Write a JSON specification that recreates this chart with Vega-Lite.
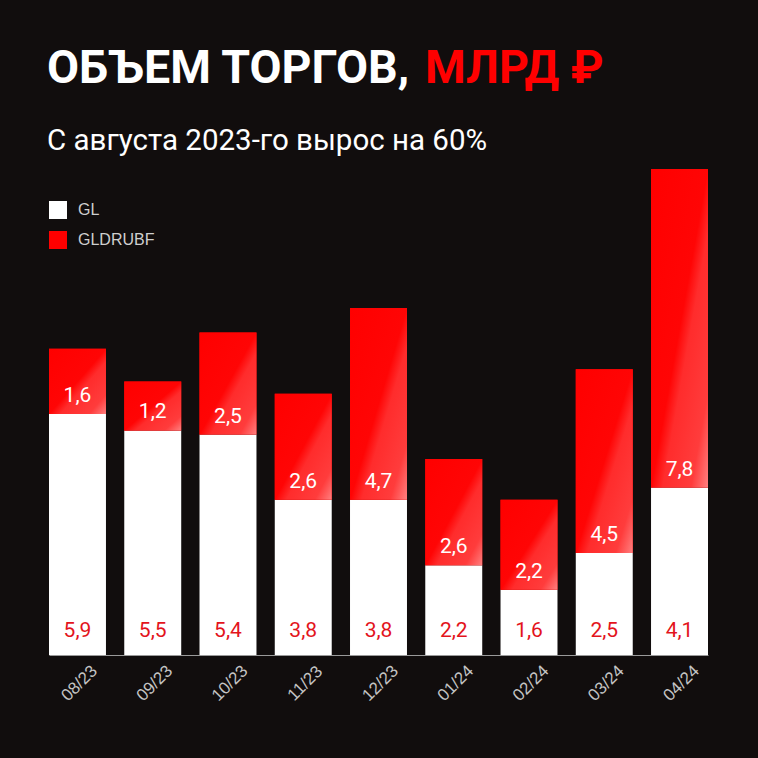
{
  "$schema": "https://vega.github.io/schema/vega-lite/v6.json",
  "autosize": {"type": "none"},
  "width": 659,
  "height": 490,
  "padding": {"left": 49, "top": 165, "right": 50, "bottom": 103},
  "background": "#110d0d",
  "config": {
    "view": {"stroke": null},
    "locale": {"number": {"decimal": ",", "thousands": " ", "grouping": [3], "currency": ["", " ₽"]}}
  },
  "datasets": {
    "volumes": [
      {"month": "08/23", "series": "GL", "value": 5.9},
      {"month": "08/23", "series": "GLDRUBF", "value": 1.6},
      {"month": "09/23", "series": "GL", "value": 5.5},
      {"month": "09/23", "series": "GLDRUBF", "value": 1.2},
      {"month": "10/23", "series": "GL", "value": 5.4},
      {"month": "10/23", "series": "GLDRUBF", "value": 2.5},
      {"month": "11/23", "series": "GL", "value": 3.8},
      {"month": "11/23", "series": "GLDRUBF", "value": 2.6},
      {"month": "12/23", "series": "GL", "value": 3.8},
      {"month": "12/23", "series": "GLDRUBF", "value": 4.7},
      {"month": "01/24", "series": "GL", "value": 2.2},
      {"month": "01/24", "series": "GLDRUBF", "value": 2.6},
      {"month": "02/24", "series": "GL", "value": 1.6},
      {"month": "02/24", "series": "GLDRUBF", "value": 2.2},
      {"month": "03/24", "series": "GL", "value": 2.5},
      {"month": "03/24", "series": "GLDRUBF", "value": 4.5},
      {"month": "04/24", "series": "GL", "value": 4.1},
      {"month": "04/24", "series": "GLDRUBF", "value": 7.8}
    ],
    "titles": [
      {"part": "main", "label": "ОБЪЕМ ТОРГОВ,"},
      {"part": "unit", "label": "МЛРД ₽"},
      {"part": "sub", "label": "С августа 2023-го вырос на 60%"}
    ]
  },
  "data": {"name": "volumes"},
  "layer": [
    {
      "transform": [
        {"stack": "value", "groupby": ["month"], "sort": [{"field": "series", "order": "ascending"}], "as": ["v0", "v1"]}
      ],
      "encoding": {
        "x": {
          "field": "month",
          "type": "ordinal",
          "sort": null,
          "scale": {"paddingInner": 0.243, "paddingOuter": 0},
          "axis": {
            "title": null,
            "ticks": false,
            "domain": true,
            "domainColor": "#9a9a9a",
            "domainWidth": 1,
            "labelAngle": -45,
            "labelAlign": "center",
            "labelBaseline": "middle",
            "labelPadding": 28,
            "labelFont": "Liberation Sans",
            "labelFontSize": 17,
            "labelColor": "#c4c4c4",
            "labelOffset": 2,
            "grid": false
          }
        }
      },
      "layer": [
        {
          "mark": {"type": "bar"},
          "encoding": {
            "y": {"field": "v1", "type": "quantitative", "scale": {"domain": [0, 12], "nice": false}, "axis": null},
            "y2": {"field": "v0"},
            "color": {
              "field": "series",
              "type": "nominal",
              "scale": {"domain": ["GL", "GLDRUBF"], "range": ["#ffffff", "#ff0000"]},
              "legend": {
                "title": null,
                "orient": "none",
                "legendX": 0,
                "legendY": 36,
                "padding": 0,
                "symbolType": "square",
                "symbolSize": 324,
                "symbolStrokeWidth": 0,
                "symbolOpacity": 1,
                "labelFont": "Liberation Sans",
                "labelFontSize": 16,
                "labelColor": "#cfcfcf",
                "labelOffset": 11,
                "rowPadding": 12
              }
            }
          }
        },
        {
          "transform": [{"filter": "datum.series == 'GLDRUBF'"}],
          "mark": {
            "type": "bar",
            "color": {
              "gradient": "linear",
              "x1": 0, "y1": 0, "x2": 1, "y2": 1,
              "stops": [
                {"offset": 0, "color": "#ff0000"},
                {"offset": 0.5, "color": "#ff0505"},
                {"offset": 0.6, "color": "#ff2c2c"},
                {"offset": 0.85, "color": "#ff3c3c"},
                {"offset": 1, "color": "#ff8080"}
              ]
            }
          },
          "encoding": {
            "y": {"field": "v1", "type": "quantitative"},
            "y2": {"field": "v0"}
          }
        },
        {
          "transform": [{"filter": "datum.series == 'GL'"}],
          "mark": {"type": "text", "baseline": "alphabetic", "dy": -18, "font": "Roboto", "fontSize": 21, "color": "#e3141c"},
          "encoding": {
            "y": {"field": "v0", "type": "quantitative"},
            "text": {"field": "value", "type": "quantitative", "format": ".1f"}
          }
        },
        {
          "transform": [{"filter": "datum.series == 'GLDRUBF'"}],
          "mark": {"type": "text", "baseline": "alphabetic", "dy": -12, "font": "Roboto", "fontSize": 21, "color": "#ffffff"},
          "encoding": {
            "y": {"field": "v0", "type": "quantitative"},
            "text": {"field": "value", "type": "quantitative", "format": ".1f"}
          }
        }
      ]
    },
    {
      "data": {"name": "titles"},
      "transform": [{"filter": "datum.part == 'main'"}],
      "mark": {"type": "text", "align": "left", "baseline": "alphabetic", "font": "Roboto", "fontSize": 46.5, "fontWeight": "bold", "color": "#ffffff"},
      "encoding": {
        "x": {"value": -2},
        "y": {"value": -82},
        "text": {"field": "label"}
      }
    },
    {
      "data": {"name": "titles"},
      "transform": [{"filter": "datum.part == 'unit'"}],
      "mark": {"type": "text", "align": "left", "baseline": "alphabetic", "font": "Roboto", "fontSize": 46.5, "fontWeight": "bold", "color": "#ff0000"},
      "encoding": {
        "x": {"value": 376},
        "y": {"value": -82},
        "text": {"field": "label"}
      }
    },
    {
      "data": {"name": "titles"},
      "transform": [{"filter": "datum.part == 'sub'"}],
      "mark": {"type": "text", "align": "left", "baseline": "alphabetic", "font": "Roboto", "fontSize": 29.5, "color": "#ffffff"},
      "encoding": {
        "x": {"value": -2},
        "y": {"value": -15},
        "text": {"field": "label"}
      }
    }
  ]
}
